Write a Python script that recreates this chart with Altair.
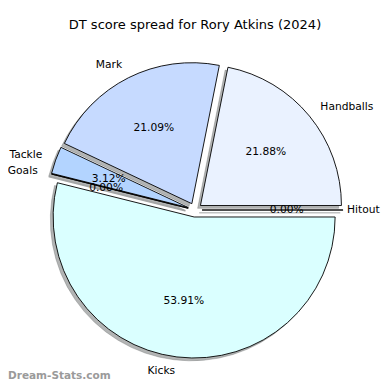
import math
import altair as alt
import pandas as pd

categories = ["Hitout", "Handballs", "Mark", "Tackle", "Goals", "Kicks"]
values = [0, 28, 27, 4, 0, 69]
colors = ["#F3F8FF", "#EAF2FF", "#C6DAFF", "#B3D4FF", "#A8CCFF", "#DAFFFF"]
explode = [0.05, 0.05, 0.05, 0.05, 0.05, 0.05]
title_text = "DT score spread for Rory Atkins (2024)"
watermark = "Dream-Stats.com"

R = 141.0  # pie radius in px (1 data unit)
W = H = 374
cx, cy = 187.0, 202.0
xmax = (W - cx) / R
label_room = 35.0 / R  # keep right-hand labels inside the page

total = sum(values)
rows = []
cum = 0.0
for c, v, e in zip(categories, values, explode):
    f0 = cum / total
    f1 = (cum + v) / total
    cum += v
    mid = 2 * math.pi * (f0 + f1) / 2
    dx = e * math.cos(mid)
    dy = e * math.sin(mid)
    lx = dx + 1.1 * math.cos(mid)
    ly = dy + 1.1 * math.sin(mid)
    side = "L" if lx > 0 else "R"
    if side == "L":
        lx = min(lx, xmax - label_room)
    px = dx + 0.6 * math.cos(mid)
    py = dy + 0.6 * math.sin(mid)
    rows.append(dict(cat=c, f0=f0, f1=f1, dx=dx, dy=dy, sx=dx - 0.02, sy=dy - 0.02,
                     lx=lx, ly=ly, px=px, py=py,
                     pct=f"{v / total * 100:.2f}%", side=side))
df = pd.DataFrame(rows)

xs = alt.Scale(domain=[-cx / R, xmax], nice=False, zero=False)
ys = alt.Scale(domain=[-(H - cy) / R, cy / R], nice=False, zero=False)
ts = alt.Scale(domain=[0, 1], range=[math.pi / 2 + 2 * math.pi, math.pi / 2])

base = alt.Chart(df)

shadow = base.mark_arc(radius=R, fill="#555858", fillOpacity=0.45, stroke="#555858",
                       strokeOpacity=0.3, strokeWidth=1).encode(
    x=alt.X("sx:Q", scale=xs, axis=None),
    y=alt.Y("sy:Q", scale=ys, axis=None),
    theta=alt.Theta("f0:Q", scale=ts, stack=None),
    theta2="f1:Q",
)

wedges = base.mark_arc(radius=R, stroke="black", strokeWidth=0.9).encode(
    x=alt.X("dx:Q", scale=xs, axis=None),
    y=alt.Y("dy:Q", scale=ys, axis=None),
    theta=alt.Theta("f0:Q", scale=ts, stack=None),
    theta2="f1:Q",
    fill=alt.Fill("cat:N", scale=alt.Scale(domain=categories, range=colors), legend=None),
)

font = "DejaVu Sans"
lab_l = base.transform_filter(alt.datum.side == "L").mark_text(
    align="left", baseline="middle", font=font, fontSize=10.7, color="black").encode(
    x=alt.X("lx:Q", scale=xs, axis=None), y=alt.Y("ly:Q", scale=ys, axis=None), text="cat:N")
lab_r = base.transform_filter(alt.datum.side == "R").mark_text(
    align="right", baseline="middle", font=font, fontSize=10.7, color="black").encode(
    x=alt.X("lx:Q", scale=xs, axis=None), y=alt.Y("ly:Q", scale=ys, axis=None), text="cat:N")
pct = base.mark_text(align="center", baseline="middle", font=font, fontSize=10.7,
                     color="black").encode(
    x=alt.X("px:Q", scale=xs, axis=None), y=alt.Y("py:Q", scale=ys, axis=None), text="pct:N")

title = alt.Chart(pd.DataFrame({"t": [title_text]})).mark_text(
    align="center", baseline="middle", font=font, fontSize=13, color="black").encode(
    x=alt.value(187), y=alt.value(17), text="t:N")
wm = alt.Chart(pd.DataFrame({"t": [watermark]})).mark_text(
    align="left", baseline="middle", font=font, fontSize=10.5, fontWeight="bold",
    color="#9a9a9a").encode(x=alt.value(0), y=alt.value(368), text="t:N")

chart = alt.layer(shadow, wedges, lab_l, lab_r, pct, title, wm).properties(
    width=W, height=H, autosize=alt.AutoSizeParams(type="none"), padding=0,
).configure_view(stroke=None)

chart.save("out.html", embed_options={"renderer": "svg", "actions": False})
